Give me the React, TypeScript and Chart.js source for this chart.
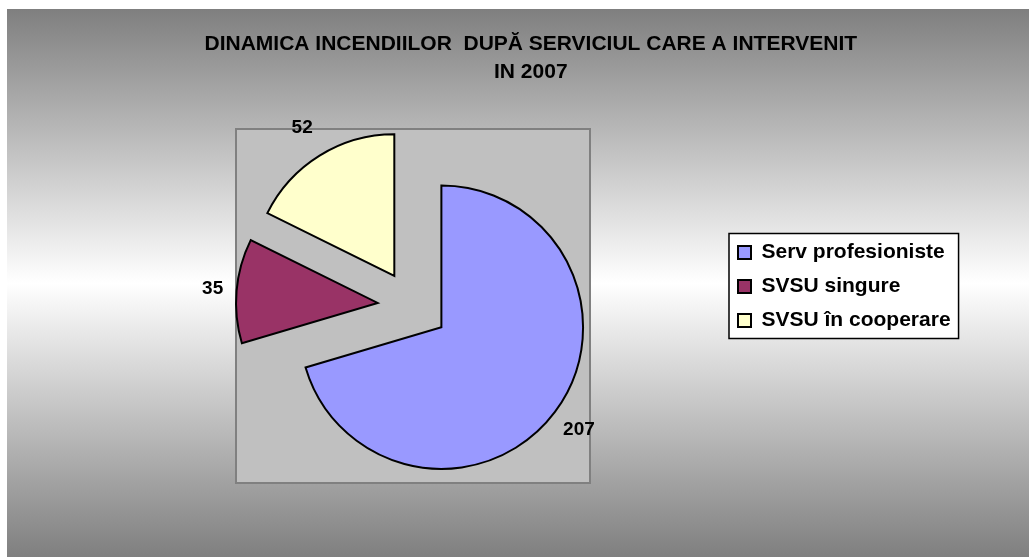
import React, { useEffect, useRef } from 'react';
import { Chart, registerables } from 'chart.js';

Chart.register(...registerables);

// ---- data ----
const TITLE_LINES = ['DINAMICA INCENDIILOR  DUPĂ SERVICIUL CARE A INTERVENIT', 'IN 2007'];
const CATEGORIES = ['Serv profesioniste', 'SVSU singure', 'SVSU în cooperare'];
const VALUES = [207, 35, 52];

// ---- style ----
const COLORS = ['#9999FF', '#993366', '#FFFFCC'];
const LABEL_GAPS = [30, 24, 33];
const W = 1029;
const H = 557;
const FONT = 'Arial, "Liberation Sans", Helvetica, sans-serif';
const EXPLODE = 0.25;
const LEGEND_FONT_SIZE = 21;
const LEGEND_BOX = 13;
const LEGEND_PAD = 13;
const PAD_LEFT = 101;
const LEGEND_LEFT = 725;
const LEGEND_SHIFT_Y = 30;

const backgroundPlugin = {
  id: 'excelBackground',
  beforeDraw(chart: any) {
    const { ctx, chartArea } = chart;
    ctx.save();
    ctx.fillStyle = '#ffffff';
    ctx.fillRect(0, 0, W, H);
    const g = ctx.createLinearGradient(0, 9, 0, H);
    g.addColorStop(0, '#7f7f7f');
    g.addColorStop(0.5, '#ffffff');
    g.addColorStop(1, '#7f7f7f');
    ctx.fillStyle = g;
    ctx.fillRect(7, 9, W - 7, H - 9);

    // plot area: square around pie centre
    const cx = (chartArea.left + chartArea.right) / 2;
    const cy = (chartArea.top + chartArea.bottom) / 2;
    const half = (chartArea.bottom - chartArea.top) / 2;
    ctx.fillStyle = '#C0C0C0';
    ctx.fillRect(cx - half, cy - half, half * 2, half * 2);
    ctx.strokeStyle = '#808080';
    ctx.lineWidth = 2;
    ctx.strokeRect(cx - half, cy - half, half * 2, half * 2);

    // legend frame
    const lg = chart.legend;
    if (lg && lg.legendHitBoxes && lg.legendHitBoxes.length) {
      const hb = lg.legendHitBoxes;
      const left = Math.min(...hb.map((b: any) => b.left)) - 9;
      const right = Math.max(...hb.map((b: any) => b.left + b.width)) + 8;
      const top = hb[0].top - 8.5;
      const last = hb[hb.length - 1];
      const bottom = last.top + last.height + 7.5;
      ctx.fillStyle = '#ffffff';
      ctx.fillRect(left, top, right - left, bottom - top);
      ctx.strokeStyle = '#000000';
      ctx.lineWidth = 1.5;
      ctx.strokeRect(left, top, right - left, bottom - top);
    }
    ctx.restore();
  },
  afterLayout(chart: any) {
    const lg = chart.legend;
    if (lg) {
      lg.top += LEGEND_SHIFT_Y;
      lg.bottom += LEGEND_SHIFT_Y;
    }
  },
  afterDatasetsUpdate(chart: any) {
    const meta = chart.getDatasetMeta(0);
    meta.data.forEach((arc: any) => {
      const mid = (arc.startAngle + arc.endAngle) / 2;
      const d = arc.outerRadius * EXPLODE;
      arc.x += Math.cos(mid) * d;
      arc.y += Math.sin(mid) * d;
    });
  },
  afterDatasetsDraw(chart: any) {
    const { ctx } = chart;
    const meta = chart.getDatasetMeta(0);
    const values = chart.data.datasets[0].data;
    ctx.save();
    ctx.font = `bold 19px ${FONT}`;
    ctx.fillStyle = '#000000';
    ctx.textAlign = 'center';
    ctx.textBaseline = 'middle';
    meta.data.forEach((arc: any, i: number) => {
      const mid = (arc.startAngle + arc.endAngle) / 2;
      const r = arc.outerRadius + LABEL_GAPS[i];
      ctx.fillText(String(values[i]), arc.x + Math.cos(mid) * r, arc.y + Math.sin(mid) * r);
    });
    ctx.restore();
  },
};

export default function App() {
  const ref = useRef<HTMLCanvasElement>(null);

  useEffect(() => {
    const canvas = ref.current;
    if (!canvas) return;

    const m = document.createElement('canvas').getContext('2d') as CanvasRenderingContext2D;
    m.font = `bold ${LEGEND_FONT_SIZE}px ${FONT}`;
    const maxTextW = Math.max(...CATEGORIES.map((c) => m.measureText(c).width));
    const legendW = LEGEND_PAD + LEGEND_BOX + LEGEND_FONT_SIZE / 2 + maxTextW + 10;
    const padRight = W - LEGEND_LEFT - legendW;

    const chart = new Chart(canvas, {
      type: 'pie',
      data: {
        labels: CATEGORIES,
        datasets: [
          {
            data: VALUES,
            backgroundColor: COLORS,
            borderColor: '#000000',
            borderWidth: 2,
            borderJoinStyle: 'miter',
            hoverOffset: 0,
          } as any,
        ],
      },
      options: {
        responsive: false,
        animation: false,
        devicePixelRatio: 1,
        events: [],
        radius: '80.5%',
        layout: {
          autoPadding: false,
          padding: { left: PAD_LEFT, right: padRight, top: 30, bottom: 74 },
        },
        plugins: {
          title: {
            display: true,
            text: TITLE_LINES,
            color: '#000000',
            font: { family: FONT, size: 21, weight: 'bold', lineHeight: 28 / 21 },
            padding: { top: 0, bottom: 43 },
          },
          legend: {
            display: true,
            position: 'right',
            align: 'center',
            labels: {
              color: '#000000',
              font: { family: FONT, size: LEGEND_FONT_SIZE, weight: 'bold' },
              boxWidth: LEGEND_BOX,
              boxHeight: LEGEND_BOX,
              padding: LEGEND_PAD,
            },
          },
          tooltip: { enabled: false },
        },
      } as any,
      plugins: [backgroundPlugin],
    });

    return () => chart.destroy();
  }, []);

  return (
    <div style={{ position: 'absolute', left: 0, top: 0, width: W, height: H }}>
      <canvas ref={ref} width={W} height={H} style={{ display: 'block', width: W, height: H }} />
    </div>
  );
}
